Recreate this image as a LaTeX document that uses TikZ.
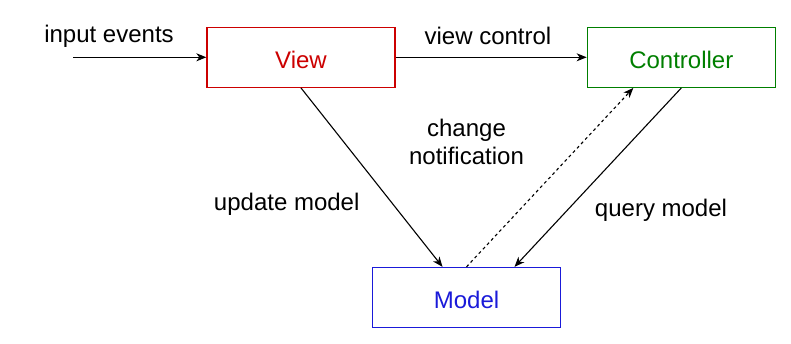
\documentclass[tikz,border=0pt]{standalone}
\usepackage{fontspec}
\setmainfont{Liberation Sans}
\usetikzlibrary{arrows.meta,calc}
\definecolor{viewred}{HTML}{CC0000}
\definecolor{ctrlgreen}{HTML}{007F00}
\definecolor{modelblue}{HTML}{1A1AD9}
\begin{document}
\begin{tikzpicture}[x=1pt,y=-1pt,
  font=\fontsize{24}{28.3}\selectfont,
  box/.style={draw=#1,text=#1,line width=1.3pt,minimum width=188pt,minimum height=60pt,
    inner sep=0pt,text height=21.6pt,text depth=0pt},
  lbl/.style={anchor=base,inner sep=0pt,align=center},
  conn/.style={line width=1.1pt,-{Stealth[length=10pt,width=8pt,inset=3pt]}}]
\useasboundingbox (0,0) rectangle (791,344);
\node[box=viewred] (view) at (301,57.3) {View};
\node[box=ctrlgreen] (ctrl) at (681.3,57.3) {Controller};
\node[box=modelblue] (model) at (466.5,297.5) {Model};
\node[lbl] (lin) at (109,43) {input events};
\node[lbl] (lvc) at (488,44.3) {view control};
\node[lbl] (lcn) at (466.5,165) {change\\notification};
\node[lbl] (lum) at (286.7,211) {update model};
\node[lbl] (lqm) at (661,216.7) {query model};
\coordinate (in) at (73,57.3);
\draw[conn] (in) -- (view.west);
\draw[conn] (view.east) -- (ctrl.west);
\draw[conn] (view.south) -- ($(model.north)+(-24,0)$);
\draw[conn] (ctrl.south) -- ($(model.north)+(48,0)$);
\draw[conn,dash pattern=on 3pt off 3pt] (model.north) -- ($(ctrl.south)+(-48,0)$);
\end{tikzpicture}
\end{document}
